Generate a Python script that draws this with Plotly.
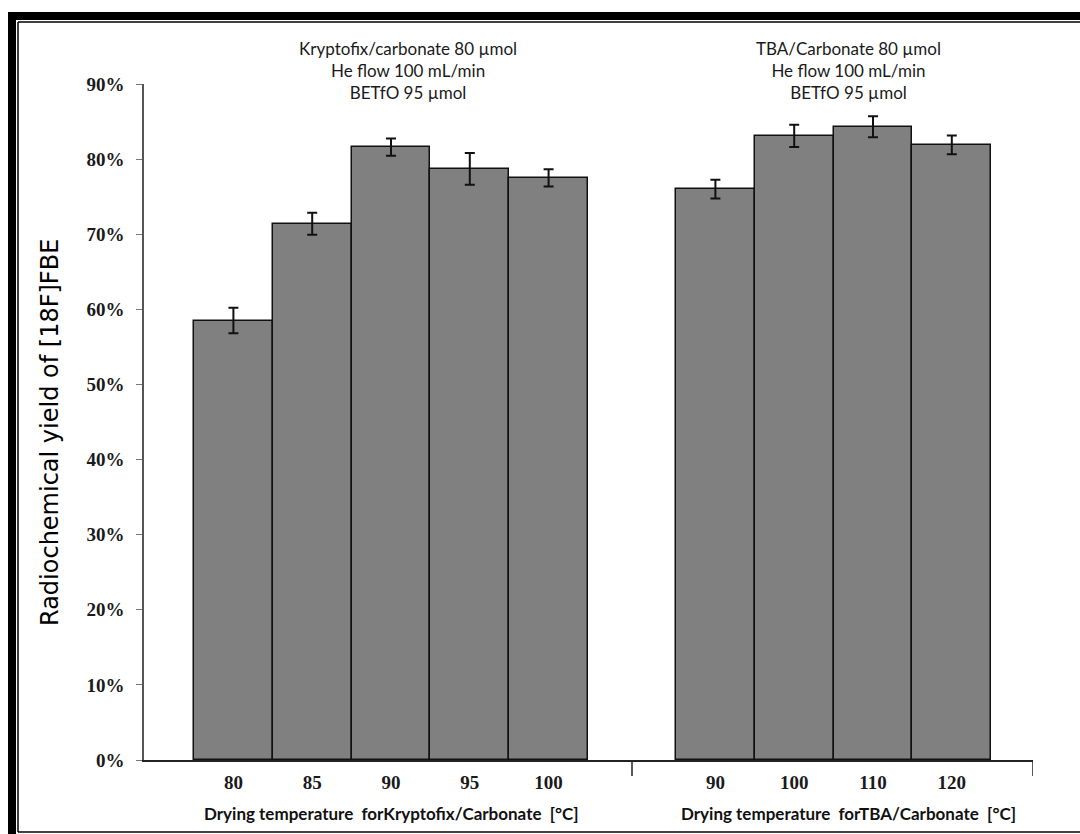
import plotly.graph_objects as go

# ---------------- data ----------------
g1_labels = ["80", "85", "90", "95", "100"]
g1_values = [0.585, 0.714, 0.816, 0.787, 0.775]
g1_errors = [0.017, 0.0146, 0.0115, 0.021, 0.0115]

g2_labels = ["90", "100", "110", "120"]
g2_values = [0.760, 0.831, 0.843, 0.819]
g2_errors = [0.0124, 0.0149, 0.014, 0.0126]

g1_title = "Drying temperature\u00a0 forKryptofix/Carbonate\u00a0 [°C]"
g2_title = "Drying temperature\u00a0 forTBA/Carbonate\u00a0 [°C]"
g1_note = "Kryptofix/carbonate 80 µmol<br>He flow 100 mL/min<br>BETfO 95 µmol"
g2_note = "TBA/Carbonate 80 µmol<br>He flow 100 mL/min<br>BETfO 95 µmol"
y_title = "Radiochemical yield of [18F]FBE"

# ---------------- layout constants (pixel-based x axis) ----------------
W, H = 1080, 834
L, R, T, B = 144, 47, 84, 74
PW, PH = W - L - R, H - T - B
BAR_W = 78.8
G1_START, G2_START, DIVIDER = 194, 676, 632
X_MIN, X_MAX = L, W - R

g1_x = [G1_START + BAR_W * (i + 0.5) for i in range(len(g1_labels))]
g2_x = [G2_START + BAR_W * (i + 0.5) for i in range(len(g2_labels))]


def px(x):
    return (x - L) / PW


def py(y):
    return (T + PH - y) / PH


fig = go.Figure()
for xs, vals, errs in [(g1_x, g1_values, g1_errors), (g2_x, g2_values, g2_errors)]:
    fig.add_trace(go.Bar(
        x=xs, y=vals, width=BAR_W,
        marker=dict(color="#808080", line=dict(color="#111111", width=1.5)),
        error_y=dict(type="data", array=errs, color="#111111", thickness=2, width=5),
        showlegend=False,
    ))

shapes = []
# divider ticks on the category axis
for xd in [DIVIDER, X_MAX]:
    shapes.append(dict(type="line", xref="x", yref="paper", x0=xd, x1=xd,
                       y0=0, y1=-16 / PH, line=dict(color="#222222", width=1.5)))
# outer frame
shapes.append(dict(type="rect", xref="paper", yref="paper", x0=px(8), x1=px(16),
                   y0=py(834), y1=py(12), fillcolor="black", line=dict(width=0), layer="above"))
shapes.append(dict(type="rect", xref="paper", yref="paper", x0=px(8), x1=px(1080),
                   y0=py(20), y1=py(12), fillcolor="black", line=dict(width=0), layer="above"))
shapes.append(dict(type="line", xref="paper", yref="paper", x0=px(18), x1=px(18),
                   y0=py(832), y1=py(22), line=dict(color="black", width=1.5)))
shapes.append(dict(type="line", xref="paper", yref="paper", x0=px(18), x1=px(1080),
                   y0=py(22), y1=py(22), line=dict(color="black", width=1.5)))
shapes.append(dict(type="line", xref="paper", yref="paper", x0=px(18), x1=px(1080),
                   y0=py(832), y1=py(832), line=dict(color="black", width=1.5)))


def ann(text, x, y, font, **kw):
    return dict(text=text, x=px(x), y=py(y), xref="paper", yref="paper", showarrow=False,
                xanchor="center", yanchor="middle", font=font, **kw)


note_font = dict(family="Lato", size=17, color="#1a1a1a")
title_font = dict(family="Lato", size=17, color="#111111", weight="bold")
annotations = [
    ann(g1_note, 408, 70, note_font, align="center"),
    ann(g2_note, 848, 70, note_font, align="center"),
    ann(g1_title, 391, 813, title_font),
    ann(g2_title, 848, 813, title_font),
    ann(y_title, 50, 433, dict(family="DejaVu Sans", size=24, color="#000000"), textangle=-90),
]

fig.update_layout(
    width=W, height=H, autosize=False,
    margin=dict(l=L, r=R, t=T, b=B),
    paper_bgcolor="white", plot_bgcolor="white",
    bargap=0,
    shapes=shapes, annotations=annotations,
    xaxis=dict(range=[X_MIN, X_MAX], tickvals=g1_x + g2_x, ticktext=g1_labels + g2_labels,
               ticks="", showgrid=False, zeroline=False, showline=True,
               linecolor="#222222", linewidth=1.5, ticklabelstandoff=4,
               tickfont=dict(family="Liberation Serif", size=19, color="#1a1a1a", weight="bold")),
    yaxis=dict(range=[0, 0.9], dtick=0.1, tickformat=".0%", ticks="outside", ticklen=6,
               tickcolor="#777777", showgrid=False, zeroline=False, showline=True,
               linecolor="#555555", linewidth=1.5, ticklabelstandoff=8,
               tickfont=dict(family="Liberation Serif", size=19, color="#1a1a1a", weight="bold")),
)

fig.write_html("out.html")
